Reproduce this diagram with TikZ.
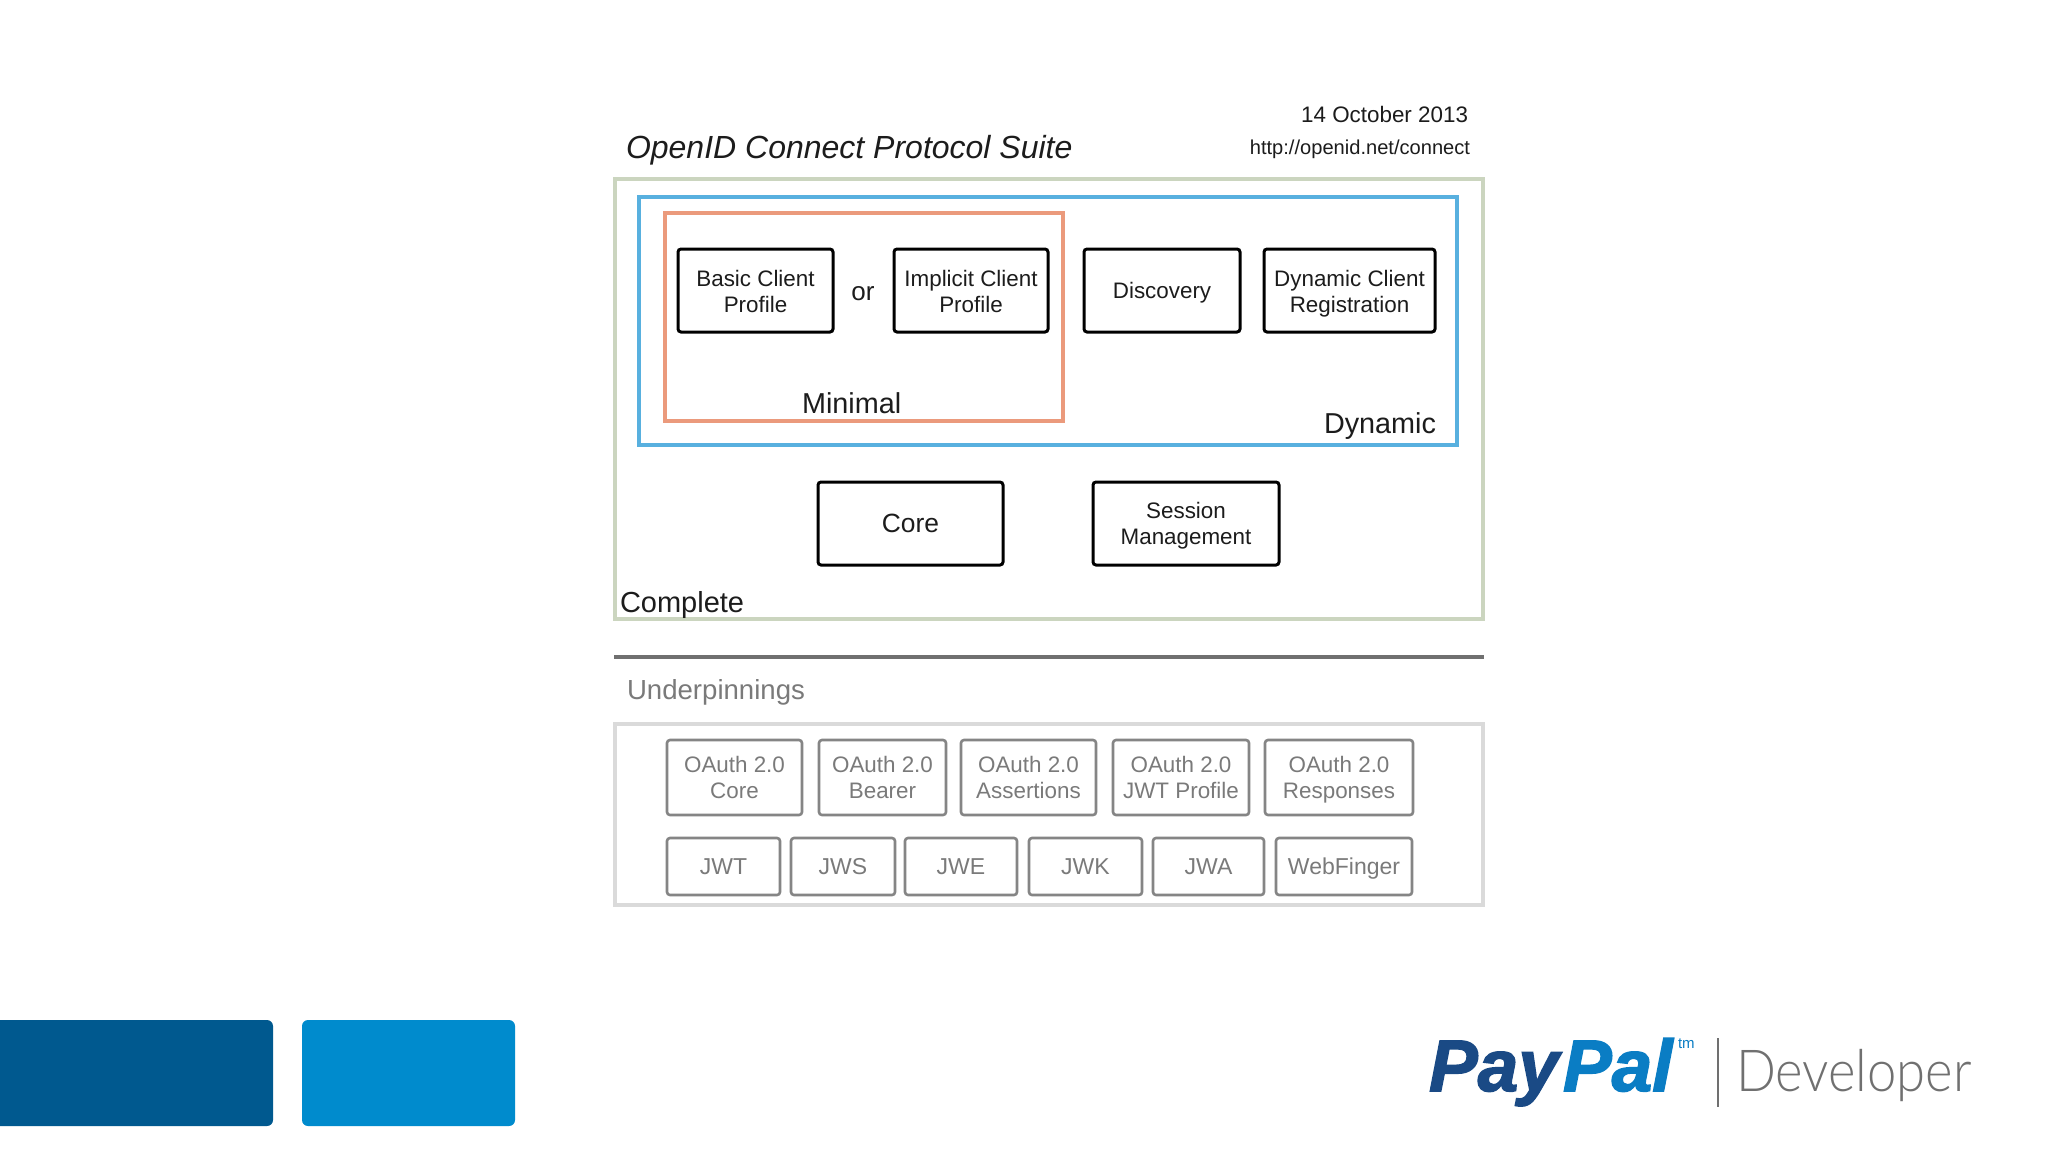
\documentclass[tikz,border=0pt]{standalone}
\usepackage{fontspec}
\setmainfont{Liberation Sans}
\newfontfamily\devfont[UprightFont={* Light},FakeStretch=0.907]{Lato}
\newfontfamily\logofont[FakeBold=2]{Liberation Sans}
\definecolor{cgreen}{HTML}{CBD5BF}
\definecolor{cblue}{HTML}{58B0DF}
\definecolor{corange}{HTML}{EB9A7C}
\definecolor{cgreytext}{HTML}{7A7A7A}
\definecolor{cgreyline}{HTML}{858585}
\definecolor{cpale}{HTML}{DADADA}
\definecolor{crule}{HTML}{707070}
\definecolor{cdark}{HTML}{00598F}
\definecolor{clight}{HTML}{008BCD}
\definecolor{pdark}{HTML}{1A4A85}
\definecolor{plight}{HTML}{0A7DC4}
\definecolor{ctext}{HTML}{1C1C1C}
\newcommand{\fs}[1]{\fontsize{#1}{13pt}\selectfont}
\newcommand{\tp}{\rule{0pt}{9.3pt}}
\newcommand{\nd}[1]{\raisebox{0pt}[\height][0pt]{#1}}
% \bx{style}{name}{x1}{y1}{x2}{y2}{text}
\newcommand{\bx}[7]{%
  \pgfmathsetmacro{\bw}{(#5-#3)*0.5}%
  \pgfmathsetmacro{\bh}{(#6-#4)*0.5}%
  \node[#1,minimum width=\bw pt,minimum height=\bh pt] (#2) at ({(#3+#5)/2},{(#4+#6)/2}) {#7};}
\tikzset{
  x=0.5pt,y=-0.5pt,
  allbox/.style={rectangle,inner sep=0pt,outer sep=0pt,align=center,text=ctext,font=\fs{11.2}},
  blackbox/.style={allbox,draw=black,line width=1.5pt,rounded corners=1.5pt},
  greybox/.style={allbox,draw=cgreyline,line width=1.3pt,rounded corners=1.5pt,text=cgreytext},
  greysingle/.style={greybox,font=\fs{11.5}},
  groupgreen/.style={allbox,draw=cgreen,line width=2pt},
  groupblue/.style={allbox,draw=cblue,line width=2pt},
  grouporange/.style={allbox,draw=corange,line width=2pt},
  grouppale/.style={allbox,draw=cpale,line width=2pt},
  lab/.style={inner sep=0pt,outer sep=0pt,text=ctext,anchor=base west},
}
\begin{document}
\begin{tikzpicture}
\useasboundingbox (0,0) rectangle (2048,1152);
\fill[white] (0,0) rectangle (2048,1152);

% header
\node[lab,font=\fs{16}\itshape] (title) at (626,158) {OpenID Connect Protocol Suite};
\node[lab,anchor=base east,font=\fs{11.2}] (date) at (1468,122) {14 October 2013};
\node[lab,anchor=base east,font=\fs{10.05}] (url) at (1470,154) {http://openid.net/connect};

% groups
\bx{groupgreen}{complete}{615}{179}{1483}{619}{}
\bx{groupblue}{dynamic}{639}{197}{1457}{445}{}
\bx{grouporange}{minimal}{665}{213}{1063}{421}{}

% black boxes
\bx{blackbox}{basic}{678}{249}{833}{332}{\tp Basic Client\\Profile}
\node[allbox,font=\fs{13}] (or) at (863,294) {or};
\bx{blackbox}{implicit}{894}{249}{1048}{332}{\tp Implicit Client\\Profile}
\bx{blackbox}{discovery}{1084}{249}{1240}{332}{\nd{Discovery}}
\bx{blackbox}{dyncl}{1264}{249}{1435}{332}{\tp Dynamic Client\\\nd{Registration}}
\bx{blackbox}{core}{818}{482}{1003}{565}{\fs{13.2}Core}
\bx{blackbox}{session}{1093}{482}{1279}{565}{Session\\\nd{Management}}

\node[lab,font=\fs{14.4}] (minlab) at (802,413) {Minimal};
\node[lab,font=\fs{14.4}] (dynlab) at (1324,433) {Dynamic};
\node[lab,font=\fs{14.5}] (complab) at (620,612) {Complete};

% rule
\coordinate (ruleL) at (614,657);
\coordinate (ruleR) at (1484,657);
\draw[crule,line width=2pt] (ruleL) -- (ruleR);

% underpinnings
\node[lab,text=cgreytext,font=\fs{13.8}] (under) at (627,699) {Underpinnings};
\bx{grouppale}{underbox}{615}{724}{1483}{905}{}

\bx{greybox}{o1}{667}{740}{802}{815}{OAuth 2.0\\Core}
\bx{greybox}{o2}{819}{740}{946}{815}{OAuth 2.0\\Bearer}
\bx{greybox}{o3}{961}{740}{1096}{815}{OAuth 2.0\\Assertions}
\bx{greybox}{o4}{1113}{740}{1249}{815}{OAuth 2.0\\JWT Profile}
\bx{greybox}{o5}{1265}{740}{1413}{815}{OAuth 2.0\\\nd{Responses}}

\bx{greysingle}{j1}{667}{838}{780}{895}{JWT}
\bx{greysingle}{j2}{791}{838}{895}{895}{JWS}
\bx{greysingle}{j3}{905}{838}{1017}{895}{JWE}
\bx{greysingle}{j4}{1029}{838}{1142}{895}{JWK}
\bx{greysingle}{j5}{1153}{838}{1264}{895}{JWA}
\bx{greysingle}{j6}{1276}{838}{1412}{895}{\nd{WebFinger}}

% footer blocks
\fill[cdark,rounded corners=3pt] (-20,1020) -- (273,1020) -- (273,1126) -- (-20,1126) -- cycle;
\fill[clight,rounded corners=3pt] (302,1020) rectangle (515,1126);

% logo
\node[lab,text=pdark,font=\fs{36.5}\logofont\itshape\bfseries] (pay) at (1429,1091) {Pay};
\node[lab,text=plight,font=\fs{36.5}\logofont\itshape\bfseries] (pal) at (1563,1091) {Pal};
\node[lab,text=plight,font=\fs{7.5}] (tm) at (1678,1048) {tm};
\coordinate (barT) at (1718,1038);
\coordinate (barB) at (1718,1107);
\draw[crule,line width=1pt] (barT) -- (barB);
\node[lab,text=crule,font=\fs{29}\devfont] (dev) at (1736,1091) {Developer};
\end{tikzpicture}
\end{document}
